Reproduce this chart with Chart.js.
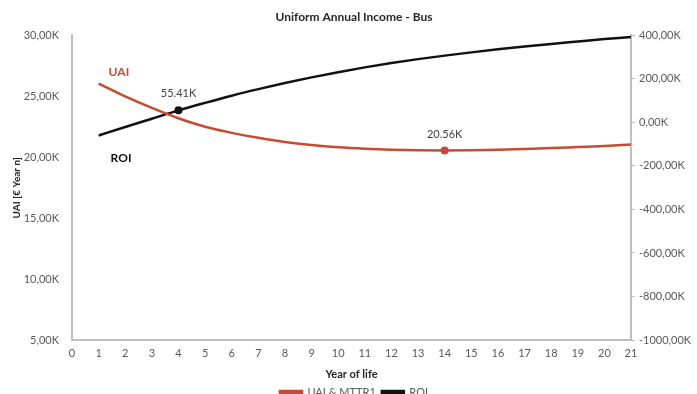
<!DOCTYPE html>
<html>
<head>
<meta charset="utf-8">
<script src="https://cdn.jsdelivr.net/npm/chart.js@4/dist/chart.umd.min.js"></script>
<style>
  html, body { margin: 0; padding: 0; background: #fff; overflow: hidden; }
  #wrap { width: 697px; height: 394px; overflow: hidden; }
</style>
</head>
<body>
<div id="wrap"><canvas id="chart-uai" width="697" height="408"></canvas></div>
<script>
// years of operation
const years = [1, 2, 3, 4, 5, 6, 7, 8, 9, 10, 11, 12, 13, 14, 15, 16, 17, 18, 19, 20, 21];
// uniform annual income, thousands of EUR (left axis)
const uai = [26.05, 25.0, 24.05, 23.2, 22.5, 22.0, 21.6, 21.25, 21.0, 20.82, 20.7,
             20.62, 20.57, 20.56, 20.58, 20.62, 20.68, 20.75, 20.84, 20.93, 21.04];
// return on investment, thousands of EUR (right axis)
const roi = [-60, -21, 17, 55.41, 90, 123, 153, 181, 207, 231, 253,
             273, 291, 307, 322, 336, 349, 361, 372, 383, 393];
// highlighted points (index into years)
const uaiMark = 13;
const roiMark = 3;

const RED = '#c84b31';
const DARK = '#111111';
const AXIS = '#bfbfbf';
const TICK = '#595959';
const FONT = 'Lato, "Open Sans", sans-serif';

const fmtK = v => v.toFixed(2).replace('.', ',') + 'K';
const pts = arr => arr.map((v, i) => ({ x: years[i], y: v }));
const radii = (idx) => years.map((_, i) => i === idx ? 4 : 0);

// value labels over the marked points + series names near the start
const textPlugin = {
    id: 'seriesText',
    afterDatasetsDraw(chart) {
        const ctx = chart.ctx;
        ctx.save();
        ctx.textBaseline = 'middle';

        const red = chart.getDatasetMeta(0).data;
        const blk = chart.getDatasetMeta(1).data;

        ctx.font = '11px ' + FONT;
        ctx.fillStyle = '#404040';
        ctx.textAlign = 'center';
        ctx.fillText(uai[uaiMark].toFixed(2) + 'K', red[uaiMark].x, red[uaiMark].y - 16);
        ctx.fillText(roi[roiMark].toFixed(2) + 'K', blk[roiMark].x, blk[roiMark].y - 17);

        ctx.font = 'bold 12px ' + FONT;
        ctx.textAlign = 'left';
        ctx.fillStyle = RED;
        ctx.fillText('UAI', red[0].x + 10, red[0].y - 11);
        ctx.fillStyle = DARK;
        ctx.fillText('ROI', blk[0].x + 12, blk[0].y + 23);
        ctx.restore();
    }
};

new Chart(document.getElementById('chart-uai'), {
    type: 'line',
    data: {
        datasets: [{
            label: 'UAI & MTTR1',
            data: pts(uai),
            yAxisID: 'y',
            borderColor: RED,
            backgroundColor: RED,
            borderWidth: 2.5,
            pointRadius: radii(uaiMark),
            pointBackgroundColor: RED,
            pointBorderWidth: 0,
            cubicInterpolationMode: 'monotone'
        }, {
            label: 'ROI',
            data: pts(roi),
            yAxisID: 'y1',
            borderColor: DARK,
            backgroundColor: DARK,
            borderWidth: 2.5,
            pointRadius: radii(roiMark),
            pointBackgroundColor: DARK,
            pointBorderWidth: 0,
            cubicInterpolationMode: 'monotone'
        }]
    },
    options: {
        responsive: false,
        animation: false,
        layout: { padding: { left: 11, right: 0, top: 0, bottom: 0 } },
        scales: {
            x: {
                type: 'linear',
                min: 0, max: 21,
                grid: { display: false },
                border: { display: true, color: AXIS, width: 2 },
                ticks: { stepSize: 1, color: TICK, font: { family: FONT, size: 11 }, padding: -1 },
                title: { display: true, text: 'Year of life', color: '#262626',
                         font: { family: FONT, size: 11, weight: 'bold' }, padding: { top: 8, bottom: 0 } },
                afterFit: s => { s.height = 41; }
            },
            y: {
                position: 'left',
                min: 5, max: 30,
                grid: { display: false },
                border: { display: true, color: AXIS, width: 2 },
                ticks: { stepSize: 5, color: TICK, font: { family: FONT, size: 11 }, padding: 5,
                         callback: v => fmtK(v) },
                title: { display: true, text: 'UAI [€ Year n]', color: '#262626',
                         font: { family: FONT, size: 10, weight: 'bold' }, padding: 0 },
                afterFit: s => { s.width = 61; }
            },
            y1: {
                position: 'right',
                min: -1000, max: 400,
                grid: { drawOnChartArea: false, drawTicks: true, tickLength: 4, color: AXIS },
                border: { display: true, color: AXIS, width: 2 },
                ticks: { stepSize: 200, color: TICK, font: { family: FONT, size: 11 }, padding: 4,
                         callback: v => fmtK(v) },
                afterFit: s => { s.width = 66; }
            }
        },
        plugins: {
            title: {
                display: true,
                text: 'Uniform Annual Income - Bus',
                color: '#262626',
                font: { family: FONT, size: 12, weight: 'bold' },
                padding: { top: 10, bottom: 11 }
            },
            legend: {
                position: 'bottom',
                labels: {
                    color: TICK,
                    font: { family: FONT, size: 11 },
                    boxWidth: 22, boxHeight: 3,
                    padding: 6
                }
            },
            tooltip: { enabled: false }
        }
    },
    plugins: [textPlugin]
});
</script>
</body>
</html>
